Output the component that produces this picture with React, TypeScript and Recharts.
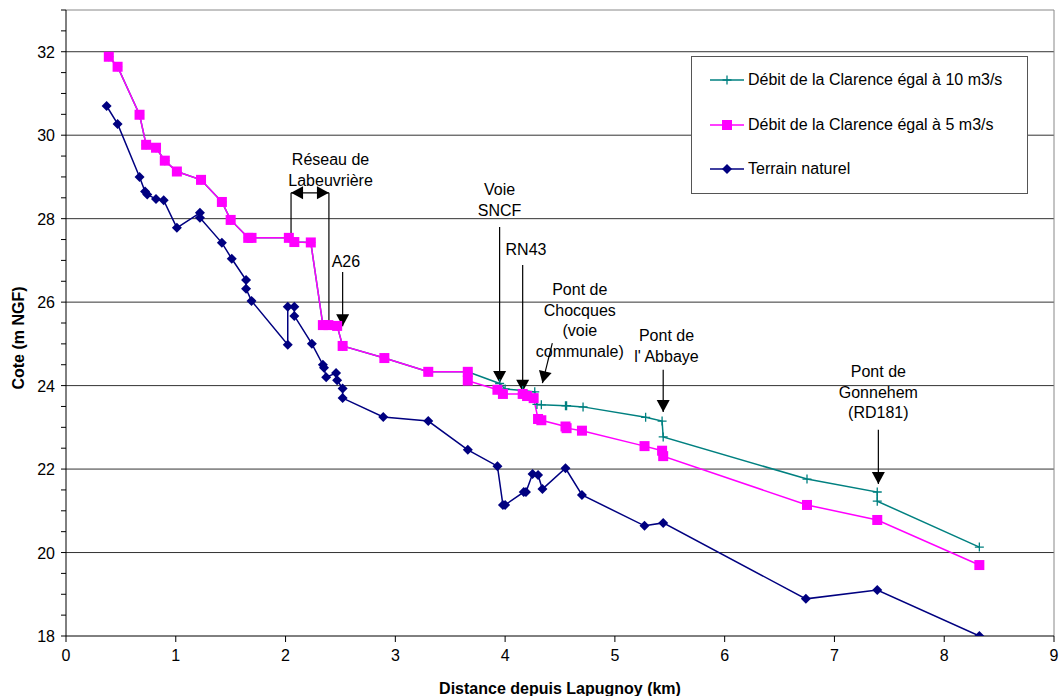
import {
  LineChart,
  Line,
  XAxis,
  YAxis,
  ReferenceLine,
  ReferenceDot,
} from 'recharts';

// [distance (km), cote (m NGF)]
const debit10: [number, number][] = [
  [0.39, 31.88], [0.47, 31.64], [0.67, 30.49], [0.73, 29.77], [0.82, 29.7], [0.9, 29.39],
  [1.01, 29.13], [1.23, 28.93], [1.42, 28.4], [1.5, 27.97], [1.66, 27.54], [1.69, 27.54],
  [2.03, 27.54], [2.08, 27.44], [2.23, 27.43], [2.34, 25.45], [2.39, 25.45], [2.47, 25.43],
  [2.52, 24.95], [2.9, 24.66], [3.3, 24.33], [3.66, 24.33], [3.95, 24.05], [4.0, 23.92],
  [4.16, 23.88], [4.27, 23.85], [4.29, 23.55], [4.33, 23.54], [4.55, 23.52], [4.56, 23.52],
  [4.71, 23.49], [5.28, 23.24], [5.43, 23.15], [5.44, 22.77], [6.75, 21.76], [7.39, 21.45],
  [7.39, 21.23], [8.32, 20.13],
];

const debit5: [number, number][] = [
  [0.39, 31.88], [0.47, 31.64], [0.67, 30.49], [0.73, 29.77], [0.82, 29.7], [0.9, 29.39],
  [1.01, 29.13], [1.23, 28.93], [1.42, 28.4], [1.5, 27.97], [1.66, 27.54], [1.69, 27.54],
  [2.03, 27.54], [2.08, 27.44], [2.23, 27.43], [2.34, 25.45], [2.39, 25.45], [2.47, 25.43],
  [2.52, 24.95], [2.9, 24.66], [3.3, 24.33], [3.66, 24.33], [3.66, 24.12], [3.93, 23.9],
  [3.98, 23.8], [4.16, 23.8], [4.2, 23.75], [4.26, 23.7], [4.3, 23.2], [4.33, 23.17],
  [4.55, 23.02], [4.56, 22.98], [4.7, 22.92], [5.27, 22.55], [5.43, 22.44], [5.44, 22.31],
  [6.75, 21.14], [7.39, 20.78], [8.32, 19.7],
];

const terrain: [number, number][] = [
  [0.37, 30.7], [0.47, 30.27], [0.67, 29.0], [0.72, 28.65], [0.74, 28.58], [0.82, 28.47],
  [0.89, 28.44], [1.01, 27.78], [1.22, 28.14], [1.22, 28.02], [1.42, 27.42], [1.51, 27.04],
  [1.64, 26.53], [1.64, 26.32], [1.69, 26.03], [2.02, 24.98], [2.02, 25.89], [2.08, 25.89],
  [2.08, 25.67], [2.24, 25.0], [2.34, 24.5], [2.35, 24.43], [2.37, 24.2], [2.46, 24.3],
  [2.47, 24.13], [2.52, 23.93], [2.52, 23.7], [2.89, 23.25], [3.3, 23.15], [3.66, 22.46],
  [3.93, 22.07], [3.98, 21.14], [4.0, 21.14], [4.17, 21.45], [4.19, 21.45], [4.25, 21.88],
  [4.3, 21.86], [4.34, 21.52], [4.55, 22.02], [4.7, 21.38], [5.27, 20.64], [5.44, 20.71],
  [6.74, 18.89], [7.39, 19.1], [8.32, 18.0],
];

const xTicks = [0, 1, 2, 3, 4, 5, 6, 7, 8, 9];
const yTicks = [
  18, 18.5, 19, 19.5, 20, 20.5, 21, 21.5, 22, 22.5, 23, 23.5, 24, 24.5, 25, 25.5,
  26, 26.5, 27, 27.5, 28, 28.5, 29, 29.5, 30, 30.5, 31, 31.5, 32, 32.5, 33,
];
const yLabels = [18, 20, 22, 24, 26, 28, 30, 32];
const gridValues = [20, 22, 24, 26, 28, 30, 32];

// annotation texts, positioned in data units (baseline of first line)
const notes = [
  { x: 2.41, y: 29.28, lines: ['Réseau de', 'Labeuvrière'] },
  { x: 2.55, y: 26.83, lines: ['A26'] },
  { x: 3.95, y: 28.56, lines: ['Voie', 'SNCF'] },
  { x: 4.19, y: 27.12, lines: ['RN43'] },
  { x: 4.68, y: 26.16, lines: ['Pont de', 'Chocques', '(voie', 'communale)'] },
  { x: 5.47, y: 25.06, lines: ['Pont de', "l'  Abbaye"] },
  { x: 7.4, y: 24.2, lines: ['Pont de', 'Gonnehem', '(RD181)'] },
];

// arrows: from -> to, head at the "to" end (or both)
const arrows = [
  { x1: 2.05, y1: 28.62, x2: 2.395, y2: 28.62, head: 'both' },
  { x1: 2.05, y1: 28.62, x2: 2.05, y2: 27.54, head: 'none' },
  { x1: 2.395, y1: 28.62, x2: 2.395, y2: 25.5, head: 'none' },
  { x1: 2.52, y1: 26.72, x2: 2.52, y2: 25.42, head: 'end' },
  { x1: 3.95, y1: 27.8, x2: 3.95, y2: 24.06, head: 'end' },
  { x1: 4.16, y1: 26.89, x2: 4.16, y2: 23.85, head: 'end' },
  { x1: 4.43, y1: 25.02, x2: 4.34, y2: 24.06, head: 'end' },
  { x1: 5.44, y1: 24.38, x2: 5.44, y2: 23.37, head: 'end' },
  { x1: 7.4, y1: 22.94, x2: 7.4, y2: 21.64, head: 'end' },
];

const toRows = (pts: [number, number][]) => pts.map(([x, y]) => ({ x, y }));

const FONT = '"Liberation Sans", Arial, sans-serif';
const TEAL = '#008080';
const PINK = '#FF00FF';
const NAVY = '#000080';

const head = (tx: number, ty: number, fx: number, fy: number) => {
  const dx = tx - fx;
  const dy = ty - fy;
  const len = Math.sqrt(dx * dx + dy * dy) || 1;
  const ux = dx / len;
  const uy = dy / len;
  const L = 12;
  const W = 6.5;
  const bx = tx - ux * L;
  const by = ty - uy * L;
  return `${tx},${ty} ${bx - uy * W},${by + ux * W} ${bx + uy * W},${by - ux * W}`;
};

const arrowShape = (kind: string) => (p: any) => {
  const { x1, y1, x2, y2 } = p;
  return (
    <g>
      <line x1={x1} y1={y1} x2={x2} y2={y2} stroke="#000" strokeWidth={1.2} />
      {kind !== 'none' && <polygon points={head(x2, y2, x1, y1)} fill="#000" />}
      {kind === 'both' && <polygon points={head(x1, y1, x2, y2)} fill="#000" />}
    </g>
  );
};

const noteShape = (lines: string[]) => (p: any) => (
  <text x={p.cx} y={p.cy} textAnchor="middle" fontFamily={FONT} fontSize={16} fill="#000">
    {lines.map((t, i) => (
      <tspan key={i} x={p.cx} dy={i === 0 ? 0 : 20.5}>
        {t}
      </tspan>
    ))}
  </text>
);

const plusDot = (p: any) => (
  <path
    key={`p-${p.index}`}
    d={`M${p.cx - 4.5},${p.cy}H${p.cx + 4.5}M${p.cx},${p.cy - 4.5}V${p.cy + 4.5}`}
    stroke={TEAL}
    strokeWidth={1.3}
    fill="none"
  />
);
const squareDot = (p: any) => (
  <rect key={`s-${p.index}`} x={p.cx - 5} y={p.cy - 5} width={10} height={10} fill={PINK} />
);
const diamondDot = (p: any) => (
  <path
    key={`d-${p.index}`}
    d={`M${p.cx},${p.cy - 5}L${p.cx + 5},${p.cy}L${p.cx},${p.cy + 5}L${p.cx - 5},${p.cy}Z`}
    fill={NAVY}
  />
);

const YTick = (p: any) => {
  const v = p.payload.value;
  if (!yLabels.includes(v)) return <g />;
  return (
    <text x={p.x} y={p.y} dy={6} textAnchor="end" fontFamily={FONT} fontSize={16} fill="#000">
      {v}
    </text>
  );
};

const YTitle = (p: any) => {
  const vb = p.viewBox;
  const cx = vb.x + 24;
  const cy = 338;
  return (
    <text
      x={cx}
      y={cy}
      transform={`rotate(-90, ${cx}, ${cy})`}
      textAnchor="middle"
      fontFamily={FONT}
      fontSize={16}
      fontWeight="bold"
      fill="#000"
    >
      Cote (m NGF)
    </text>
  );
};

const legendItems = [
  { label: 'Débit de la Clarence égal à 10 m3/s', color: TEAL, marker: 'plus' },
  { label: 'Débit de la Clarence égal à 5 m3/s', color: PINK, marker: 'square' },
  { label: 'Terrain naturel', color: NAVY, marker: 'diamond' },
];

const LegendIcon = ({ color, marker }: { color: string; marker: string }) => (
  <svg width={34} height={12} style={{ marginRight: 4 }}>
    <line x1={0} y1={6} x2={34} y2={6} stroke={color} strokeWidth={1.5} />
    {marker === 'plus' && <path d="M12.5,6H21.5M17,1.5V10.5" stroke={color} strokeWidth={1.3} />}
    {marker === 'square' && <rect x={12} y={1} width={10} height={10} fill={color} />}
    {marker === 'diamond' && <path d="M17,1L22,6L17,11L12,6Z" fill={color} />}
  </svg>
);

export default function App() {
  return (
    <div style={{ position: 'absolute', left: 0, top: 0, width: 1060, height: 696, background: '#fff' }}>
      <LineChart width={1060} height={696} margin={{ top: 10, right: 6, left: 0, bottom: 0 }}>
        {gridValues.map((v) => (
          <ReferenceLine key={`g${v}`} y={v} stroke="#333" strokeWidth={1} />
        ))}
        <ReferenceLine y={33} stroke="#888" strokeWidth={1} />
        <ReferenceLine x={9} stroke="#888" strokeWidth={1} />
        <XAxis
          type="number"
          dataKey="x"
          domain={[0, 9]}
          ticks={xTicks}
          interval={0}
          height={60}
          stroke="#000"
          tickSize={6}
          tickMargin={8}
          tick={{ fill: '#000', fontFamily: FONT, fontSize: 16 }}
          label={{
            value: 'Distance depuis Lapugnoy (km)',
            position: 'insideBottom',
            offset: 2,
            fill: '#000',
            fontFamily: FONT,
            fontSize: 16,
            fontWeight: 'bold',
          }}
        />
        <YAxis
          type="number"
          dataKey="y"
          domain={[18, 33]}
          ticks={yTicks}
          interval={0}
          width={66}
          stroke="#000"
          tickSize={5}
          tickMargin={6}
          allowDataOverflow
          tick={YTick}
          label={<YTitle />}
        />
        <Line
          data={toRows(debit10)}
          dataKey="y"
          stroke={TEAL}
          strokeWidth={1.5}
          dot={plusDot}
          activeDot={false}
          isAnimationActive={false}
        />
        <Line
          data={toRows(debit5)}
          dataKey="y"
          stroke={PINK}
          strokeWidth={1.5}
          dot={squareDot}
          activeDot={false}
          isAnimationActive={false}
        />
        <Line
          data={toRows(terrain)}
          dataKey="y"
          stroke={NAVY}
          strokeWidth={1.5}
          dot={diamondDot}
          activeDot={false}
          isAnimationActive={false}
        />
        {arrows.map((a, i) => (
          <ReferenceLine
            key={`a${i}`}
            segment={[{ x: a.x1, y: a.y1 }, { x: a.x2, y: a.y2 }]}
            shape={arrowShape(a.head)}
          />
        ))}
        {notes.map((n, i) => (
          <ReferenceDot key={`n${i}`} x={n.x} y={n.y} r={0} shape={noteShape(n.lines)} />
        ))}
      </LineChart>
      <div
        style={{
          position: 'absolute',
          left: 691,
          top: 56,
          width: 335,
          height: 136,
          border: '1px solid #555',
          background: '#fff',
          fontFamily: FONT,
          fontSize: 16,
          color: '#000',
          boxSizing: 'content-box',
        }}
      >
        {legendItems.map((it, i) => (
          <div
            key={it.label}
            style={{ position: 'absolute', left: 18, top: 14 + i * 44.5, display: 'flex', alignItems: 'center', whiteSpace: 'nowrap' }}
          >
            <LegendIcon color={it.color} marker={it.marker} />
            <span>{it.label}</span>
          </div>
        ))}
      </div>
    </div>
  );
}
